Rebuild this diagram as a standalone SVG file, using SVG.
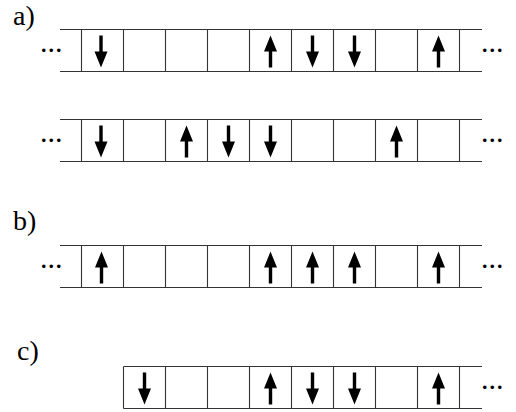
<svg xmlns="http://www.w3.org/2000/svg" xmlns:xlink="http://www.w3.org/1999/xlink" width="516" height="412" viewBox="0 0 516 412">
<style>
.ln{stroke:#333;stroke-width:1.1;fill:none}
.lbl{font-family:"Liberation Serif","Times New Roman",serif;font-size:28px;fill:#000}
.dots{font-family:"Liberation Serif","Times New Roman",serif;font-size:30px;fill:#000}
.ar{fill:#000}
</style>
<defs>
<path id="up" class="ar" d="M0,6 L6.5,22 L1.7,22 L1.7,38 L-1.7,38 L-1.7,22 L-6.5,22 Z"/>
<path id="down" class="ar" d="M0,38 L6.5,22 L1.7,22 L1.7,6 L-1.7,6 L-1.7,22 L-6.5,22 Z"/>
<path id="row" class="ln" d="M60,0 H482 M60,42 H482 M81.5,0 V42 M123.5,0 V42 M165.5,0 V42 M207.5,0 V42 M249.5,0 V42 M291.5,0 V42 M333.5,0 V42 M375.5,0 V42 M417.5,0 V42 M459.5,0 V42"/>
</defs>
<g id="label-a"><text class="lbl" x="13" y="25">a)</text></g>
<g id="label-b"><text class="lbl" x="13" y="230">b)</text></g>
<g id="label-c"><text class="lbl" x="17" y="360">c)</text></g>

<g id="row-a1" transform="translate(0,29.5)">
<use xlink:href="#row"/>
<text class="dots" x="40" y="22">...</text>
<text class="dots" x="481" y="22">...</text>
<use xlink:href="#down" x="101" y="0"/>
<use xlink:href="#up" x="270.5" y="0"/>
<use xlink:href="#down" x="312.5" y="0"/>
<use xlink:href="#down" x="354.5" y="0"/>
<use xlink:href="#up" x="438.5" y="0"/>
</g>

<g id="row-a2" transform="translate(0,119.5)">
<use xlink:href="#row"/>
<text class="dots" x="40" y="22">...</text>
<text class="dots" x="481" y="22">...</text>
<use xlink:href="#down" x="101" y="0"/>
<use xlink:href="#up" x="186.5" y="0"/>
<use xlink:href="#down" x="228.5" y="0"/>
<use xlink:href="#down" x="270.5" y="0"/>
<use xlink:href="#up" x="396.5" y="0"/>
</g>

<g id="row-b" transform="translate(0,245.5)">
<use xlink:href="#row"/>
<text class="dots" x="40" y="22">...</text>
<text class="dots" x="481" y="22">...</text>
<use xlink:href="#up" x="101.5" y="0"/>
<use xlink:href="#up" x="270.5" y="0"/>
<use xlink:href="#up" x="312.5" y="0"/>
<use xlink:href="#up" x="354.5" y="0"/>
<use xlink:href="#up" x="438.5" y="0"/>
</g>

<g id="row-c" transform="translate(0,366.5)">
<path class="ln" d="M123.5,0 H482 M123.5,42 H482 M123.5,0 V42 M165.5,0 V42 M207.5,0 V42 M249.5,0 V42 M291.5,0 V42 M333.5,0 V42 M375.5,0 V42 M417.5,0 V42 M459.5,0 V42"/>
<text class="dots" x="481" y="22">...</text>
<use xlink:href="#down" x="144.5" y="0"/>
<use xlink:href="#up" x="270.5" y="0"/>
<use xlink:href="#down" x="312.5" y="0"/>
<use xlink:href="#down" x="354.5" y="0"/>
<use xlink:href="#up" x="438.5" y="0"/>
</g>
</svg>
